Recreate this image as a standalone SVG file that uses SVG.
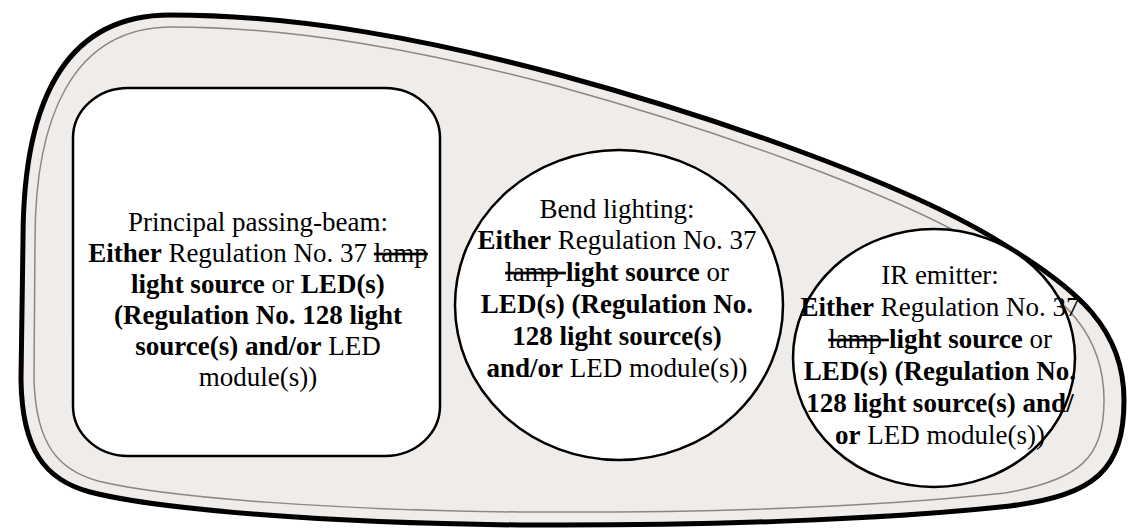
<svg xmlns="http://www.w3.org/2000/svg" width="1128" height="529" viewBox="0 0 1128 529">
<style>
.t{font-family:"Liberation Serif","Times New Roman",serif;font-size:27px;fill:#000;text-anchor:middle}
.b{font-weight:bold}
.s{text-decoration:line-through}
.shape{fill:#fff;stroke:none}
.edge{fill:none;stroke:#000;stroke-width:2.5}
</style>
<g id="housing">
<path d="M 23,240 C 23,110 60,15 170,15 C 300,15 430,40 560,75 C 700,113 900,180 1000,242 C 1080,290 1124,330 1124,400 C 1124,470 1095,495 1010,506 C 880,520 700,526 520,525 C 330,523 160,510 90,492 C 45,480 22,450 21,380 Z" fill="#efecea" stroke="#000" stroke-width="5"/>
<path d="M 35,240 C 35,122 70,27 172,27 C 298,27 428,52 557,86 C 695,124 893,190 992,252 C 1068,298 1104,336 1104,400 C 1104,458 1080,480 1005,493 C 875,507 700,513 520,512 C 335,510 168,498 98,481 C 58,470 36,444 34,380 Z" fill="none" stroke="#888" stroke-width="1.5"/>
</g>
<g id="principal">
<rect class="shape" x="73" y="88" width="367" height="368" rx="55" ry="50"/>
<text class="t" x="258" y="231">Principal passing-beam:</text>
<text class="t" x="258" y="262"><tspan class="b">Either</tspan> Regulation No. 37 <tspan class="s">lamp</tspan></text>
<text class="t" x="258" y="293"><tspan class="b">light source</tspan> or <tspan class="b">LED(s)</tspan></text>
<text class="t" x="258" y="324"><tspan class="b">(Regulation No. 128 light</tspan></text>
<text class="t" x="258" y="355"><tspan class="b">source(s) and/or</tspan> LED</text>
<text class="t" x="258" y="386">module(s))</text>
<rect class="edge" x="73" y="88" width="367" height="368" rx="55" ry="50"/>
</g>
<g id="bend">
<ellipse class="shape" cx="619" cy="305" rx="164" ry="155"/>
<text class="t" x="617" y="218">Bend lighting:</text>
<text class="t" x="617" y="249"><tspan class="b">Either</tspan> Regulation No. 37</text>
<text class="t" x="617" y="281"><tspan class="s">lamp </tspan><tspan class="b">light source</tspan> or</text>
<text class="t" x="617" y="313"><tspan class="b">LED(s) (Regulation No.</tspan></text>
<text class="t" x="617" y="345"><tspan class="b">128 light source(s)</tspan></text>
<text class="t" x="617" y="377"><tspan class="b">and/or</tspan> LED module(s))</text>
<ellipse class="edge" cx="619" cy="305" rx="164" ry="155"/>
</g>
<g id="ir">
<ellipse class="shape" cx="934" cy="358" rx="141" ry="129"/>
<text class="t" x="940" y="284">IR emitter:</text>
<text class="t" x="940" y="316"><tspan class="b">Either</tspan> Regulation No. 37</text>
<text class="t" x="940" y="348"><tspan class="s">lamp </tspan><tspan class="b">light source</tspan> or</text>
<text class="t" x="940" y="380"><tspan class="b">LED(s) (Regulation No.</tspan></text>
<text class="t" x="940" y="412"><tspan class="b">128 light source(s) and/</tspan></text>
<text class="t" x="940" y="444"><tspan class="b">or</tspan> LED module(s))</text>
<ellipse class="edge" cx="934" cy="358" rx="141" ry="129"/>
</g>
<g id="connectors"/>
</svg>
